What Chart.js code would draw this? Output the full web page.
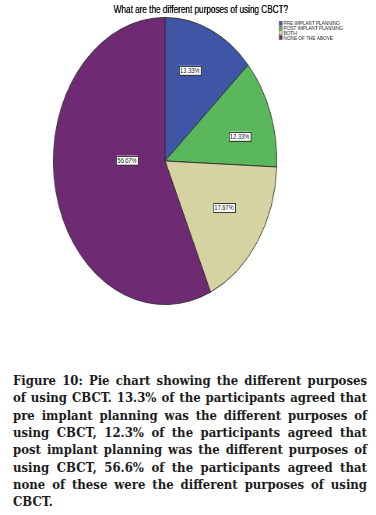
<!DOCTYPE html>
<html>
<head>
<meta charset="utf-8">
<script src="https://cdn.jsdelivr.net/npm/chart.js@4"></script>
<style>
  html, body { margin: 0; padding: 0; background: #fff; width: 376px; height: 515px; overflow: hidden; }
  #wrap { position: absolute; left: 0; top: 0; width: 483px; height: 320px; transform: scaleX(0.7785); transform-origin: 0 0; }
  #caption { position: absolute; left: 13px; top: 372px; width: 354px; font-family: "DejaVu Serif Condensed", "DejaVu Serif", serif; font-stretch: condensed; font-weight: bold; font-size: 13px; line-height: 17.35px; color: #1c1c1c; }
  #caption div { text-align: justify; text-align-last: justify; white-space: nowrap; }
  #caption div.last { text-align-last: left; }
</style>
</head>
<body>
<div id="wrap"><canvas id="c" width="483" height="320"></canvas></div>
<div id="caption">
  <div>Figure 10: Pie chart showing the different purposes</div>
  <div>of using CBCT. 13.3% of the participants agreed that</div>
  <div>pre implant planning was the different purposes of</div>
  <div>using CBCT, 12.3% of the participants agreed that</div>
  <div>post implant planning was the different purposes of</div>
  <div>using CBCT, 56.6% of the participants agreed that</div>
  <div>none of these were the different purposes of using</div>
  <div class="last">CBCT.</div>
</div>
<script>
const titleText = "What are the different purposes of using CBCT?";
const categories = ["PRE IMPLANT PLANNING", "POST IMPLANT PLANNING", "BOTH", "NONE OF THE ABOVE"];
const percentages = [13.33, 12.33, 17.67, 56.67];
const percentLabels = ["13.33%", "12.33%", "17.67%", "56.67%"];
const sliceColors = ["#3f55a6", "#5bb75c", "#d5d3a1", "#6e2b74"];

// label placement (style): radius fraction and angle shift in degrees
const labelRadius = [0.67, 0.69, 0.62, 0.34];
const labelAngleShift = [-4.6, 5.3, -2.5, 13];

const extras = {
  id: 'extras',
  afterDatasetsDraw(chart) {
    const ctx = chart.ctx;
    const meta = chart.getDatasetMeta(0);
    ctx.save();
    ctx.textAlign = 'center';
    ctx.textBaseline = 'middle';
    ctx.font = '7.3px "Liberation Sans", Arial, sans-serif';
    meta.data.forEach((arc, i) => {
      const p = arc.getProps(['x', 'y', 'startAngle', 'endAngle', 'outerRadius'], true);
      const a = (p.startAngle + p.endAngle) / 2 + labelAngleShift[i] * Math.PI / 180;
      const r = p.outerRadius * labelRadius[i];
      const x = p.x + Math.cos(a) * r;
      const y = p.y + Math.sin(a) * r;
      const t = percentLabels[i];
      const w = ctx.measureText(t).width + 3;
      const h = 9;
      ctx.fillStyle = '#ffffff';
      ctx.fillRect(x - w / 2, y - h / 2, w, h);
      ctx.strokeStyle = '#3a3a3a';
      ctx.lineWidth = 1;
      ctx.strokeRect(Math.round(x - w / 2) + 0.5, Math.round(y - h / 2) + 0.5, Math.round(w), h);
      ctx.fillStyle = '#111';
      ctx.fillText(t, x, y + 0.5);
    });
    // title
    ctx.font = '10.5px "Liberation Sans", Arial, sans-serif';
    ctx.fillStyle = '#111';
    ctx.fillText(titleText, 258, 10);
    ctx.fillText(titleText, 258.3, 10);
    // legend
    ctx.textAlign = 'left';
    ctx.font = '6px "Liberation Sans", Arial, sans-serif';
    const ys = [23.3, 28.1, 32.8, 37.6];
    categories.forEach((c, i) => {
      ctx.fillStyle = sliceColors[i];
      ctx.fillRect(358.5, ys[i] - 2, 4.2, 4);
      ctx.strokeStyle = '#555';
      ctx.lineWidth = 0.5;
      ctx.strokeRect(358.5, ys[i] - 2, 4.2, 4);
      ctx.fillStyle = '#1a1a1a';
      ctx.fillText(c, 364.3, ys[i] + 0.3);
    });
    ctx.restore();
  }
};

new Chart(document.getElementById('c'), {
  type: 'pie',
  data: {
    labels: categories,
    datasets: [{
      data: percentages,
      backgroundColor: sliceColors,
      borderColor: '#2e2e2e',
      borderWidth: 0.9
    }]
  },
  options: {
    responsive: false,
    maintainAspectRatio: false,
    animation: false,
    events: [],
    layout: { padding: { left: 68, right: 127, top: 17, bottom: 15 } },
    plugins: {
      legend: { display: false },
      title: { display: false },
      tooltip: { enabled: false }
    }
  },
  plugins: [extras]
});
</script>
</body>
</html>
